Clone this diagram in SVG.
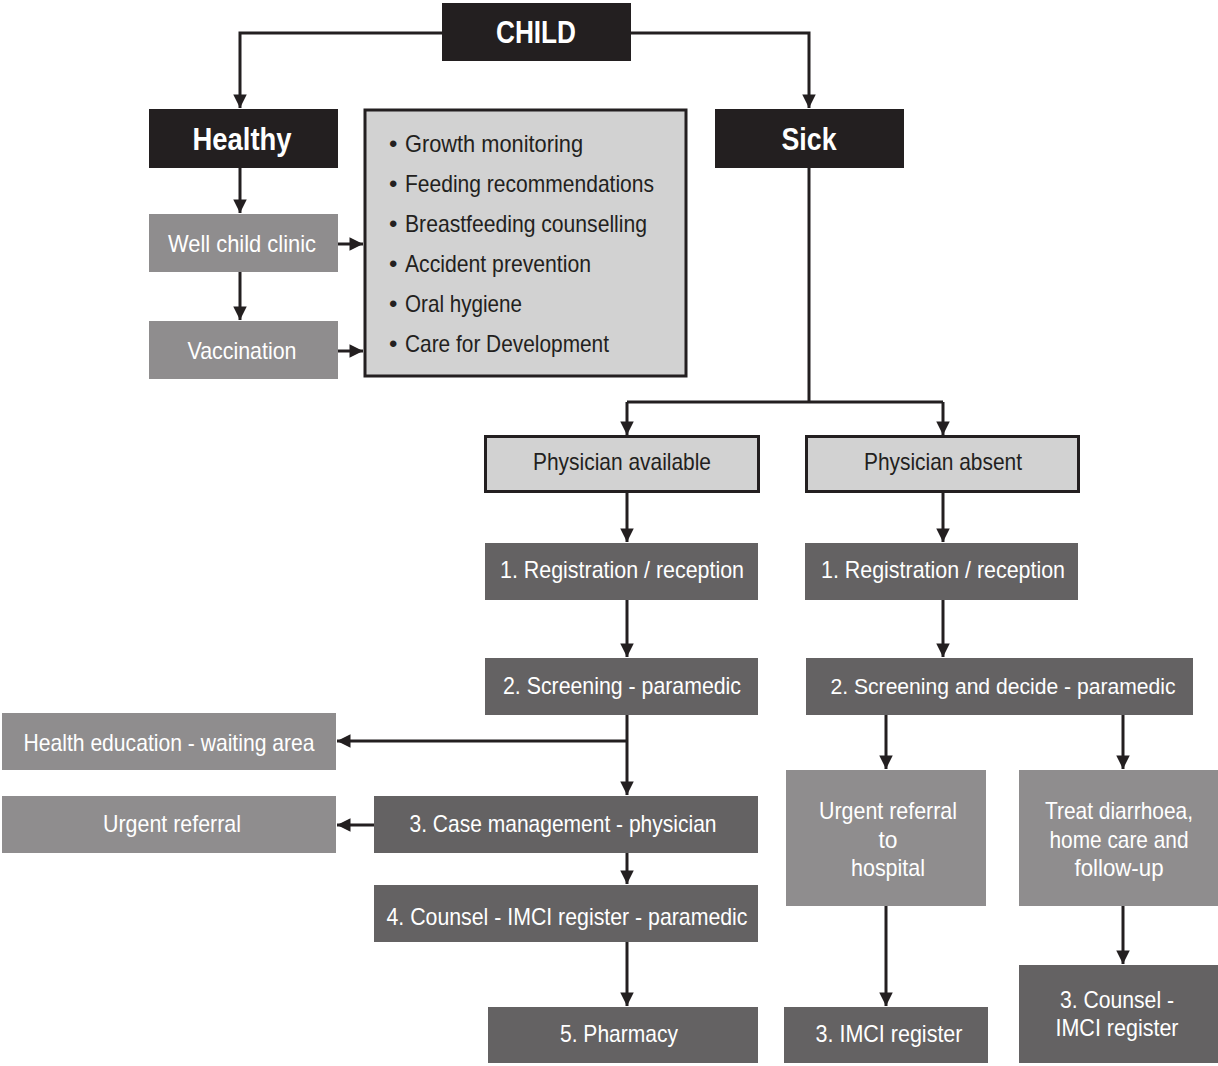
<svg xmlns="http://www.w3.org/2000/svg" width="1218" height="1066" viewBox="0 0 1218 1066">
<style>
text{font-family:"Liberation Sans",Arial,sans-serif;font-size:24px;text-anchor:middle;fill:#fff}
.b{font-weight:bold;font-size:32px}
.dk{fill:#231f20}
.blk{fill:#231f20}
.drk{fill:#646263}
.mid{fill:#8f8d8e}
.lt{fill:#d2d2d2;stroke:#231f20;stroke-width:3}
.l{text-anchor:start;fill:#231f20}
.c{fill:none;stroke:#231f20;stroke-width:3}
.s{font-size:22px}
</style>
<defs>
<marker id="a" viewBox="0 0 10 10" refX="10" refY="5" markerWidth="5" markerHeight="4.5" orient="auto" markerUnits="strokeWidth">
<path d="M0,0 L10,5 L0,10 z" fill="#231f20"/>
</marker>
</defs>
<rect width="1218" height="1066" fill="#fff"/>
<g id="connectors">
<path class="c" d="M442,33 H240 V108" marker-end="url(#a)"/>
<path class="c" d="M631,33 H809 V108" marker-end="url(#a)"/>
<path class="c" d="M240,168 V213" marker-end="url(#a)"/>
<path class="c" d="M240,272 V320" marker-end="url(#a)"/>
<path class="c" d="M338,244 H363" marker-end="url(#a)"/>
<path class="c" d="M338,351 H363" marker-end="url(#a)"/>
<path class="c" d="M809,168 V402"/>
<path class="c" d="M627,402 H943"/>
<path class="c" d="M627,402 V435" marker-end="url(#a)"/>
<path class="c" d="M943,402 V435" marker-end="url(#a)"/>
<path class="c" d="M627,492 V542" marker-end="url(#a)"/>
<path class="c" d="M943,492 V542" marker-end="url(#a)"/>
<path class="c" d="M627,600 V657" marker-end="url(#a)"/>
<path class="c" d="M943,600 V657" marker-end="url(#a)"/>
<path class="c" d="M627,715 V795" marker-end="url(#a)"/>
<path class="c" d="M627,741 H337" marker-end="url(#a)"/>
<path class="c" d="M374,825 H337" marker-end="url(#a)"/>
<path class="c" d="M627,853 V884" marker-end="url(#a)"/>
<path class="c" d="M627,942 V1006" marker-end="url(#a)"/>
<path class="c" d="M886,715 V769" marker-end="url(#a)"/>
<path class="c" d="M1123,715 V769" marker-end="url(#a)"/>
<path class="c" d="M886,906 V1006" marker-end="url(#a)"/>
<path class="c" d="M1123,906 V964" marker-end="url(#a)"/>
</g>
<g id="child"><rect class="blk" x="442" y="3" width="189" height="58"/><text class="b" x="536" y="43" textLength="80" lengthAdjust="spacingAndGlyphs">CHILD</text></g>
<g id="healthy"><rect class="blk" x="149" y="109" width="189" height="59"/><text class="b" x="242" y="150" textLength="99" lengthAdjust="spacingAndGlyphs">Healthy</text></g>
<g id="sick"><rect class="blk" x="715" y="109" width="189" height="59"/><text class="b" x="809" y="150" textLength="55" lengthAdjust="spacingAndGlyphs">Sick</text></g>
<g id="services"><rect class="lt" x="365" y="110" width="321" height="266"/>
<text class="l" x="389" y="152">•</text><text class="l" x="405" y="152" textLength="178" lengthAdjust="spacingAndGlyphs">Growth monitoring</text>
<text class="l" x="389" y="192">•</text><text class="l" x="405" y="192" textLength="249" lengthAdjust="spacingAndGlyphs">Feeding recommendations</text>
<text class="l" x="389" y="232">•</text><text class="l" x="405" y="232" textLength="242" lengthAdjust="spacingAndGlyphs">Breastfeeding counselling</text>
<text class="l" x="389" y="272">•</text><text class="l" x="405" y="272" textLength="186" lengthAdjust="spacingAndGlyphs">Accident prevention</text>
<text class="l" x="389" y="312">•</text><text class="l" x="405" y="312" textLength="117" lengthAdjust="spacingAndGlyphs">Oral hygiene</text>
<text class="l" x="389" y="352">•</text><text class="l" x="405" y="352" textLength="204" lengthAdjust="spacingAndGlyphs">Care for Development</text>
</g>
<g id="well"><rect class="mid" x="149" y="214" width="189" height="58"/><text x="242" y="252" textLength="148" lengthAdjust="spacingAndGlyphs">Well child clinic</text></g>
<g id="vacc"><rect class="mid" x="149" y="321" width="189" height="58"/><text x="242" y="359" textLength="109" lengthAdjust="spacingAndGlyphs">Vaccination</text></g>
<g id="phys-avail"><rect class="lt" x="485.5" y="436.5" width="273" height="55"/><text class="dk" x="622" y="470" textLength="178" lengthAdjust="spacingAndGlyphs">Physician available</text></g>
<g id="phys-abs"><rect class="lt" x="806.5" y="436.5" width="272" height="55"/><text class="dk" x="943" y="470" textLength="158" lengthAdjust="spacingAndGlyphs">Physician absent</text></g>
<g id="reg1"><rect class="drk" x="485" y="543" width="273" height="57"/><text x="622" y="578" textLength="244" lengthAdjust="spacingAndGlyphs">1. Registration / reception</text></g>
<g id="reg2"><rect class="drk" x="805" y="543" width="273" height="57"/><text x="943" y="578" textLength="244" lengthAdjust="spacingAndGlyphs">1. Registration / reception</text></g>
<g id="scr1"><rect class="drk" x="485" y="658" width="273" height="57"/><text x="622" y="694" textLength="238" lengthAdjust="spacingAndGlyphs">2. Screening - paramedic</text></g>
<g id="scr2"><rect class="drk" x="806" y="658" width="387" height="57"/><text class="s" x="1003" y="694" textLength="345" lengthAdjust="spacingAndGlyphs">2. Screening and decide - paramedic</text></g>
<g id="healthedu"><rect class="mid" x="2" y="713" width="334" height="57"/><text x="169" y="751" textLength="291" lengthAdjust="spacingAndGlyphs">Health education - waiting area</text></g>
<g id="urgent1"><rect class="mid" x="2" y="796" width="334" height="57"/><text x="172" y="832" textLength="138" lengthAdjust="spacingAndGlyphs">Urgent referral</text></g>
<g id="case"><rect class="drk" x="374" y="796" width="384" height="57"/><text x="563" y="832" textLength="307" lengthAdjust="spacingAndGlyphs">3. Case management - physician</text></g>
<g id="counsel4"><rect class="drk" x="374" y="885" width="384" height="57"/><text x="567" y="925" textLength="361" lengthAdjust="spacingAndGlyphs">4. Counsel - IMCI register - paramedic</text></g>
<g id="pharm"><rect class="drk" x="488" y="1007" width="270" height="56"/><text x="619" y="1042" textLength="118" lengthAdjust="spacingAndGlyphs">5. Pharmacy</text></g>
<g id="urgent2"><rect class="mid" x="786" y="770" width="200" height="136"/>
<text x="888" y="819" textLength="138" lengthAdjust="spacingAndGlyphs">Urgent referral</text>
<text x="888" y="848" textLength="19" lengthAdjust="spacingAndGlyphs">to</text>
<text x="888" y="876" textLength="74" lengthAdjust="spacingAndGlyphs">hospital</text></g>
<g id="treat"><rect class="mid" x="1019" y="770" width="199" height="136"/>
<text x="1119" y="819" textLength="148" lengthAdjust="spacingAndGlyphs">Treat diarrhoea,</text>
<text x="1119" y="848" textLength="139" lengthAdjust="spacingAndGlyphs">home care and</text>
<text x="1119" y="876" textLength="89" lengthAdjust="spacingAndGlyphs">follow-up</text></g>
<g id="imci3"><rect class="drk" x="784" y="1007" width="204" height="56"/><text x="889" y="1042" textLength="147" lengthAdjust="spacingAndGlyphs">3. IMCI register</text></g>
<g id="counsel3"><rect class="drk" x="1019" y="965" width="199" height="98"/>
<text x="1117" y="1008" textLength="114" lengthAdjust="spacingAndGlyphs">3. Counsel -</text>
<text x="1117" y="1036" textLength="123" lengthAdjust="spacingAndGlyphs">IMCI register</text></g>
</svg>
